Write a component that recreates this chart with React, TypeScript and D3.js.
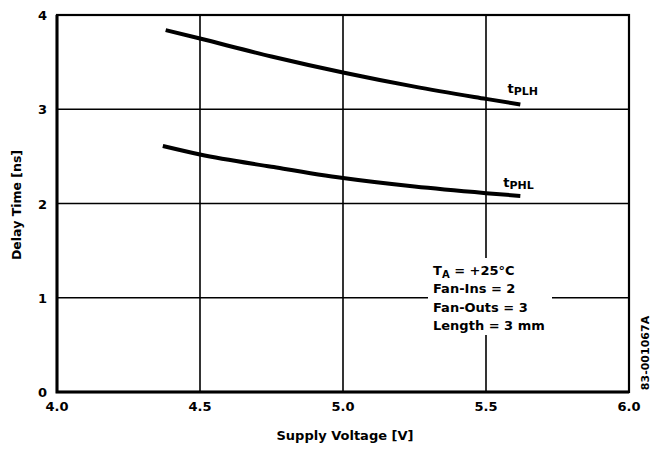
import { useEffect, useRef } from "react";
import * as d3 from "d3";

const W = 653;
const H = 455;

// x ticks and y ticks as printed
const xTicks = [4.0, 4.5, 5.0, 5.5, 6.0];
const yTicks = [0, 1, 2, 3, 4];

// curves (volts, ns)
const plhVolts = [4.38, 4.5, 4.75, 5.0, 5.25, 5.5, 5.62];
const plhDelay = [3.84, 3.75, 3.56, 3.39, 3.24, 3.11, 3.05];
const phlVolts = [4.37, 4.5, 4.75, 5.0, 5.25, 5.5, 5.62];
const phlDelay = [2.61, 2.52, 2.39, 2.27, 2.18, 2.11, 2.08];

const conditions = ["= +25°C", "Fan-Ins = 2", "Fan-Outs = 3", "Length = 3 mm"];

const FONT = "'DejaVu Sans', Arial, sans-serif";

export default function App() {
  const svgRef = useRef<SVGSVGElement>(null);

  useEffect(() => {
    const svg = d3.select(svgRef.current);
    svg.selectAll("*").remove();

    const x = d3.scaleLinear().domain([4, 6]).range([57, 629]);
    const y = d3.scaleLinear().domain([0, 4]).range([392, 15]);

    const g = svg.append("g");

    // grid
    g.selectAll(".vg")
      .data(xTicks.slice(1, -1))
      .join("line")
      .attr("x1", (d) => x(d))
      .attr("x2", (d) => x(d))
      .attr("y1", y(4))
      .attr("y2", y(0))
      .attr("stroke", "#000")
      .attr("stroke-width", 1.6);
    g.selectAll(".hg")
      .data(yTicks.slice(1, -1))
      .join("line")
      .attr("x1", x(4))
      .attr("x2", x(6))
      .attr("y1", (d) => y(d))
      .attr("y2", (d) => y(d))
      .attr("stroke", "#000")
      .attr("stroke-width", 1.6);

    // frame: top/right lighter, left/bottom heavier
    g.append("rect")
      .attr("x", x(4))
      .attr("y", y(4))
      .attr("width", x(6) - x(4))
      .attr("height", y(0) - y(4))
      .attr("fill", "none")
      .attr("stroke", "#000")
      .attr("stroke-width", 2.2);
    g.append("path")
      .attr("d", `M${x(4)},${y(4)}V${y(0)}H${x(6)}`)
      .attr("fill", "none")
      .attr("stroke", "#000")
      .attr("stroke-width", 3);

    // curves
    const line = d3
      .line<[number, number]>()
      .x((d) => x(d[0]))
      .y((d) => y(d[1]))
      .curve(d3.curveMonotoneX);
    const plh = plhVolts.map((v, i) => [v, plhDelay[i]] as [number, number]);
    const phl = phlVolts.map((v, i) => [v, phlDelay[i]] as [number, number]);
    [plh, phl].forEach((pts) => {
      g.append("path")
        .attr("d", line(pts))
        .attr("fill", "none")
        .attr("stroke", "#000")
        .attr("stroke-width", 4);
    });

    // curve labels
    const label = (sub: string, xv: number, yv: number) => {
      const t = g
        .append("text")
        .attr("x", x(xv))
        .attr("y", y(yv))
        .attr("font-family", FONT)
        .attr("font-weight", "bold")
        .attr("font-size", 13);
      t.append("tspan").text("t");
      t.append("tspan").attr("dy", 2).attr("font-size", 11).text(sub);
    };
    label("PLH", 5.575, 3.17);
    label("PHL", 5.56, 2.18);

    // conditions box (white knocks out the grid)
    g.append("rect")
      .attr("x", 428)
      .attr("y", 258)
      .attr("width", 124)
      .attr("height", 77)
      .attr("fill", "#fff");
    conditions.forEach((c, i) => {
      const t = g
        .append("text")
        .attr("x", 433)
        .attr("y", 275 + i * 18.3)
        .attr("font-family", FONT)
        .attr("font-weight", "bold")
        .attr("font-size", 13);
      if (i === 0) {
        t.append("tspan").text("T");
        t.append("tspan").attr("dy", 3).attr("font-size", 10).text("A");
        t.append("tspan").attr("dy", -3).text(" " + c);
      } else {
        t.text(c);
      }
    });

    // tick labels
    g.selectAll(".xt")
      .data(xTicks)
      .join("text")
      .attr("x", (d) => x(d))
      .attr("y", 411)
      .attr("text-anchor", "middle")
      .attr("font-family", FONT)
      .attr("font-weight", "bold")
      .attr("font-size", 13)
      .text((d) => d3.format(".1f")(d));
    g.selectAll(".yt")
      .data(yTicks)
      .join("text")
      .attr("x", 47)
      .attr("y", (d) => y(d) + 5)
      .attr("text-anchor", "end")
      .attr("font-family", FONT)
      .attr("font-weight", "bold")
      .attr("font-size", 13)
      .text((d) => String(d));

    // axis titles
    g.append("text")
      .attr("x", 345)
      .attr("y", 440)
      .attr("text-anchor", "middle")
      .attr("font-family", FONT)
      .attr("font-weight", "bold")
      .attr("font-size", 13)
      .text("Supply Voltage [V]");
    g.append("text")
      .attr("transform", "translate(21,205) rotate(-90)")
      .attr("text-anchor", "middle")
      .attr("font-family", FONT)
      .attr("font-weight", "bold")
      .attr("font-size", 12.5)
      .text("Delay Time [ns]");

    // figure number
    g.append("text")
      .attr("transform", "translate(649,353) rotate(-90)")
      .attr("text-anchor", "middle")
      .attr("font-family", FONT)
      .attr("font-weight", "bold")
      .attr("font-size", 11)
      .text("83-001067A");
  }, []);

  return (
    <svg
      ref={svgRef}
      width={W}
      height={H}
      style={{ position: "absolute", left: 0, top: 0, background: "#fff" }}
    />
  );
}
